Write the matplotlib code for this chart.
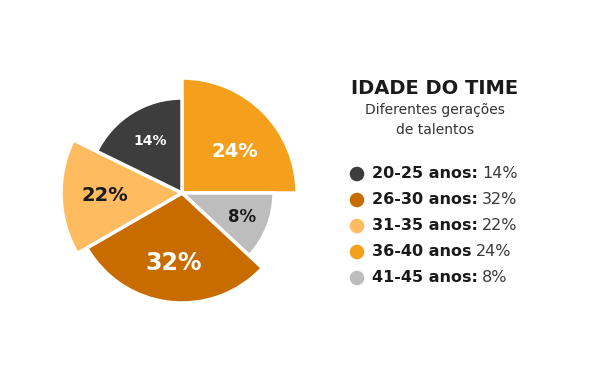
import matplotlib.pyplot as plt
import numpy as np

# dados
faixas = ["20-25 anos:", "26-30 anos:", "31-35 anos:", "36-40 anos", "41-45 anos:"]
valores = [14, 32, 22, 24, 8]
cores = ["#3d3d3d", "#c96c00", "#ffbb60", "#f5a01c", "#bdbdbd"]

# ordem das fatias no gráfico (sentido horário a partir das 12h)
ordem_pie = [3, 4, 1, 2, 0]
# abertura de cada fatia como desenhada no original (graus)
abertura = [90, 43, 107, 56, 64]
raios = [115, 92, 110, 121, 95]          # raio de cada fatia (px)
dist_rotulo = [0.58, 0.70, 0.64, 0.64, 0.64]
cor_rotulo = ["white", "#1a1a1a", "white", "#1a1a1a", "white"]
tam_rotulo = [14, 12, 17, 14, 10]

titulo = "IDADE DO TIME"
subtitulo = "Diferentes gerações\nde talentos"

plt.rcParams["font.family"] = ["DejaVu Sans"]

fig = plt.figure(figsize=(6.11, 3.84), dpi=100)
ax = fig.add_axes([0, 0, 1, 1])

centro = (182, 191)
vals_pie = [valores[i] for i in ordem_pie]
wedges, _ = ax.pie(abertura, colors=[cores[i] for i in ordem_pie],
                   startangle=90, counterclock=False, center=centro,
                   radius=100, frame=True,
                   wedgeprops=dict(edgecolor="white", linewidth=2.5))
ax.set_xlim(0, 611)
ax.set_ylim(0, 384)
ax.set_aspect("equal")
ax.axis("off")

for k, w in enumerate(wedges):
    w.set_radius(raios[k])
    meio = np.deg2rad((w.theta1 + w.theta2) / 2)
    if k == 0:
        meio = np.deg2rad(38)
    d = raios[k] * dist_rotulo[k]
    ax.text(centro[0] + d * np.cos(meio), centro[1] + d * np.sin(meio),
            f"{vals_pie[k]}%", ha="center", va="center",
            fontsize=tam_rotulo[k], fontweight="bold", color=cor_rotulo[k])

# título e legenda
ax.text(435, 384 - 88, titulo, ha="center", va="center",
        fontsize=14, fontweight="bold", color="#1a1a1a")
ax.text(435, 384 - 120, subtitulo, ha="center", va="center",
        fontsize=10, color="#333333", linespacing=1.5)

renderer = fig.canvas.get_renderer()
y0 = 384 - 174
for i, (faixa, v) in enumerate(zip(faixas, valores)):
    y = y0 - i * 26
    ax.scatter([357], [y], s=110, color=cores[i], edgecolor="none")
    t = ax.text(372, y, faixa, ha="left", va="center", fontsize=11.5,
                fontweight="bold", color="#1a1a1a")
    bb = t.get_window_extent(renderer)
    x1 = ax.transData.inverted().transform((bb.x1, bb.y0))[0]
    ax.text(x1 + 4, y, f"{v}%", ha="left", va="center", fontsize=11.5,
            color="#3a3a3a")

fig.savefig("out.png", dpi=100)
plt.close()
